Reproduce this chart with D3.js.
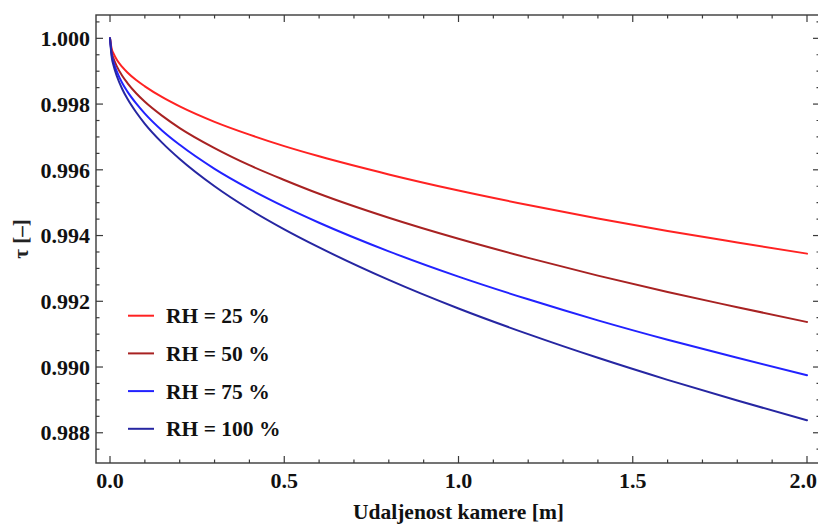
<!DOCTYPE html>
<html>
<head>
<meta charset="utf-8">
<script src="https://cdn.jsdelivr.net/npm/d3@7"></script>
<style>
  html, body { margin: 0; padding: 0; background: #fff; }
  svg { display: block; }
  text { font-family: "Liberation Serif", "Times New Roman", serif; }
</style>
</head>
<body>
<svg id="chart" width="818" height="525"></svg>
<script>
// Distance from camera [m]
const distance = [0, 0.005, 0.01, 0.02, 0.035, 0.05, 0.075, 0.1, 0.15, 0.2, 0.3, 0.4, 0.5, 0.6, 0.8, 1.0, 1.2, 1.4, 1.6, 1.8, 2.0];
// Transmittance tau for each relative humidity
const rh25  = [1.00000, 0.99967, 0.99954, 0.99934, 0.99913, 0.99896, 0.99873, 0.99854, 0.99821, 0.99793, 0.99746, 0.99707, 0.99672, 0.99641, 0.99586, 0.99537, 0.99493, 0.99452, 0.99414, 0.99379, 0.99345];
const rh50  = [1.00000, 0.99957, 0.99939, 0.99914, 0.99886, 0.99864, 0.99833, 0.99807, 0.99764, 0.99727, 0.99666, 0.99614, 0.99569, 0.99527, 0.99454, 0.99390, 0.99332, 0.99278, 0.99228, 0.99182, 0.99137];
const rh75  = [1.00000, 0.99949, 0.99928, 0.99898, 0.99864, 0.99838, 0.99802, 0.99771, 0.99719, 0.99676, 0.99603, 0.99542, 0.99488, 0.99439, 0.99352, 0.99275, 0.99206, 0.99142, 0.99083, 0.99028, 0.98975];
const rh100 = [1.00000, 0.99942, 0.99918, 0.99884, 0.99846, 0.99816, 0.99775, 0.99740, 0.99682, 0.99633, 0.99550, 0.99480, 0.99419, 0.99364, 0.99265, 0.99178, 0.99100, 0.99028, 0.98961, 0.98898, 0.98838];
const seriesNames = ["RH = 25 %", "RH = 50 %", "RH = 75 %", "RH = 100 %"];
const seriesColors = ["#ff2222", "#a82222", "#2222ff", "#2626a2"];
const xTicks = [0.0, 0.5, 1.0, 1.5, 2.0];
const yTicks = [0.988, 0.990, 0.992, 0.994, 0.996, 0.998, 1.000];
const xLabel = "Udaljenost kamere [m]";
const yLabel = "\u03c4 [\u2013]";

const seriesValues = [rh25, rh50, rh75, rh100];

const W = 818;
const svg = d3.select("#chart");
const mLeft = 96, mRight = 820, mTop = 15, mBottom = 463;

const x = d3.scaleLinear().domain([-0.0402, 2.0373]).range([mLeft, mRight]);
const y = d3.scaleLinear().domain([0.98708, 1.00071]).range([mBottom, mTop]);

const frameColor = "#3a3a3a";
const tickFont = 22;
const textFont = 21.5;

// Curves
const line = d3.line()
  .x(d => x(d[0]))
  .y(d => y(d[1]))
  .curve(d3.curveMonotoneX);

const plot = svg.append("g");
seriesValues.forEach((vals, i) => {
  plot.append("path")
    .datum(distance.map((d, j) => [d, vals[j]]))
    .attr("fill", "none")
    .attr("stroke", seriesColors[i])
    .attr("stroke-width", 2)
    .attr("stroke-linejoin", "round")
    .attr("stroke-linecap", "round")
    .attr("d", line);
});

// Frame
svg.append("rect")
  .attr("x", mLeft).attr("y", mTop)
  .attr("width", mRight - mLeft).attr("height", mBottom - mTop)
  .attr("fill", "none")
  .attr("stroke", frameColor)
  .attr("stroke-width", 1.4);

// Ticks (inward, all four sides)
const xMinor = d3.range(0, 2.0001, 0.1).filter(v => !xTicks.some(t => Math.abs(t - v) < 1e-6));
const yMinor = d3.range(0.9875, 1.0006, 0.0005).filter(v => !yTicks.some(t => Math.abs(t - v) < 1e-7));

const tickG = svg.append("g").attr("stroke", frameColor).attr("stroke-width", 1.2);
function xTick(v, len) {
  tickG.append("line").attr("x1", x(v)).attr("x2", x(v)).attr("y1", mBottom).attr("y2", mBottom - len);
  tickG.append("line").attr("x1", x(v)).attr("x2", x(v)).attr("y1", mTop).attr("y2", mTop + len);
}
function yTick(v, len) {
  tickG.append("line").attr("x1", mLeft).attr("x2", mLeft + len).attr("y1", y(v)).attr("y2", y(v));
  tickG.append("line").attr("x1", mRight).attr("x2", mRight - len).attr("y1", y(v)).attr("y2", y(v));
}
xTicks.forEach(v => xTick(v, 7));
xMinor.forEach(v => xTick(v, 3.5));
yTicks.forEach(v => yTick(v, 7));
yMinor.forEach(v => yTick(v, 3.5));

// Tick labels (keep the last one inside the canvas)
const xLab = svg.append("g").selectAll("text").data(xTicks).join("text")
  .attr("x", d => x(d))
  .attr("y", mBottom + 25)
  .attr("text-anchor", "middle")
  .attr("font-size", tickFont)
  .attr("font-weight", "bold")
  .attr("fill", "#111")
  .text(d => d3.format(".1f")(d));
xLab.each(function() {
  const bb = this.getBBox();
  if (bb.x + bb.width > W - 1) {
    d3.select(this).attr("text-anchor", "end").attr("x", W - 1);
  }
});

svg.append("g").selectAll("text").data(yTicks).join("text")
  .attr("x", mLeft - 6)
  .attr("y", d => y(d))
  .attr("dy", "0.35em")
  .attr("text-anchor", "end")
  .attr("font-size", tickFont)
  .attr("font-weight", "bold")
  .attr("fill", "#111")
  .text(d => d3.format(".3f")(d));

// Axis titles
svg.append("text")
  .attr("x", (x(0) + x(2)) / 2)
  .attr("y", 519)
  .attr("text-anchor", "middle")
  .attr("font-size", textFont)
  .attr("font-weight", "bold")
  .attr("fill", "#111")
  .text(xLabel);

svg.append("text")
  .attr("transform", `translate(28, ${(mTop + mBottom) / 2}) rotate(-90)`)
  .attr("text-anchor", "middle")
  .attr("font-size", 21)
  .attr("font-weight", "bold")
  .attr("fill", "#222")
  .text(yLabel);

// Legend
const legend = svg.append("g");
seriesNames.forEach((name, i) => {
  const ly = 315.7 + i * 37.7;
  legend.append("line")
    .attr("x1", 128).attr("x2", 154)
    .attr("y1", ly).attr("y2", ly)
    .attr("stroke", seriesColors[i])
    .attr("stroke-width", 2);
  legend.append("text")
    .attr("x", 166).attr("y", ly)
    .attr("dy", "0.35em")
    .attr("font-size", textFont)
    .attr("font-weight", "bold")
    .attr("fill", "#111")
    .text(name);
});
</script>
</body>
</html>
